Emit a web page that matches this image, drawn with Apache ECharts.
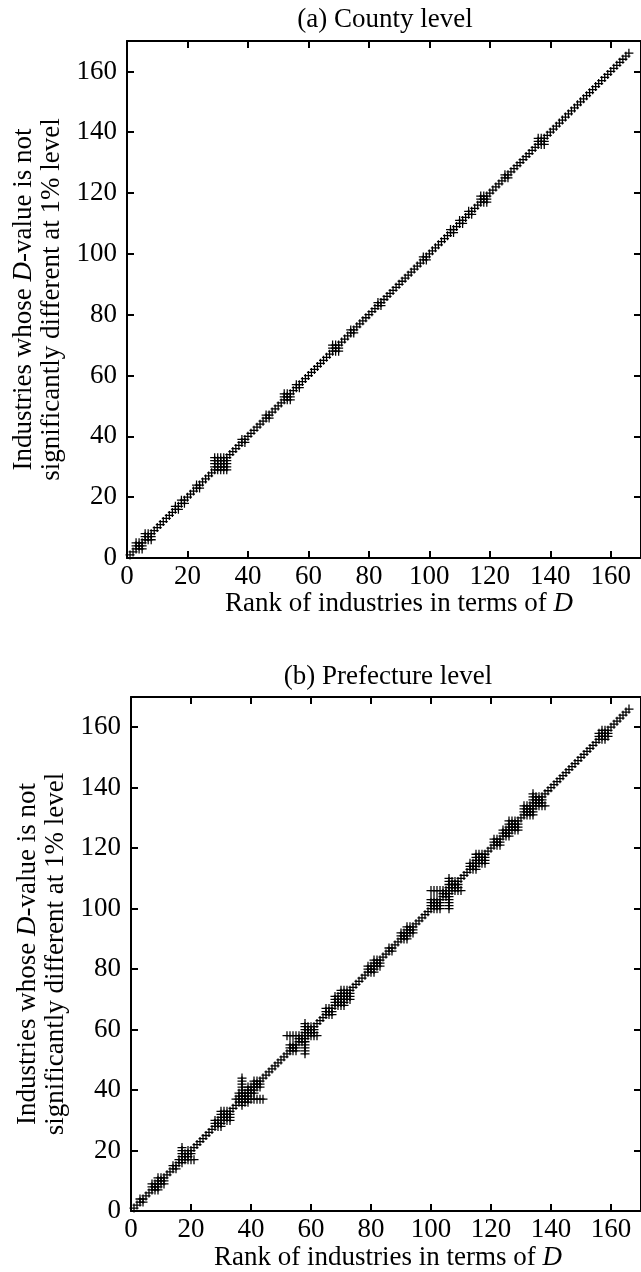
<!DOCTYPE html>
<html>
<head>
<meta charset="utf-8">
<script src="https://cdn.jsdelivr.net/npm/echarts@6/dist/echarts.min.js"></script>
<style>
  html, body { margin: 0; padding: 0; background: #fff; }
  #chart { width: 641px; height: 1272px; }
</style>
</head>
<body>
<div id="chart"></div>
<script>
  // number of industries (ranks 1..N, every industry is on the diagonal)
  var industryCount = 166;

  // (a) County level: groups of ranks whose D-values are not significantly different [from, to]
  var countyBlocks = [[3, 5], [6, 8], [16, 17], [18, 19], [23, 24], [29, 33], [38, 39], [46, 47],
    [52, 54], [56, 57], [68, 70], [74, 75], [83, 84], [98, 99], [107, 108], [110, 111], [113, 114],
    [117, 119], [125, 126], [136, 138]];
  var countySpans = [];

  // (b) Prefecture level
  var prefBlocks = [[3, 4], [7, 9], [9, 11], [14, 15], [17, 19], [19, 20], [28, 30], [30, 33],
    [36, 39], [39, 41], [41, 43], [53, 55], [56, 58], [58, 61], [65, 67], [68, 71], [70, 73],
    [79, 81], [81, 83], [86, 87], [90, 92], [92, 94], [100, 103], [104, 106], [106, 109],
    [113, 115], [115, 118], [121, 123], [124, 126], [126, 129], [131, 134], [134, 137],
    [156, 158], [157, 159]];
  // single industry [rank, from, to] not different from a wider range of ranks
  var prefSpans = [[17, 16, 21], [37, 35, 44], [58, 52, 62], [106, 100, 110], [134, 131, 138]];

  var axisMin = 0, axisMax = 170, axisStep = 20;

  function buildPoints(blocks, spans) {
    var seen = {}, pts = [];
    function add(x, y) {
      var k = x + ',' + y;
      if (!seen[k]) { seen[k] = 1; pts.push([x, y]); }
    }
    for (var r = 1; r <= industryCount; r++) add(r, r);
    blocks.forEach(function (b) {
      for (var i = b[0]; i <= b[1]; i++)
        for (var j = b[0]; j <= b[1]; j++) add(i, j);
    });
    spans.forEach(function (s) {
      for (var j = s[1]; j <= s[2]; j++) { add(s[0], j); add(j, s[0]); }
    });
    return pts;
  }

  var font = 'Liberation Serif';
  var fs = 27;
  var plus = 'path://M4.3,0H5.7V4.3H10V5.7H5.7V10H4.3V5.7H0V4.3H4.3Z';
  var rich = {
    n: { fontFamily: font, fontSize: fs, color: '#000', lineHeight: 28 },
    i: { fontFamily: font, fontSize: fs, color: '#000', fontStyle: 'italic', lineHeight: 28 }
  };

  function xAxisFor(grid, main, shift) {
    return {
      type: 'value', gridIndex: grid, position: main ? 'bottom' : 'top',
      min: axisMin, max: axisMax, interval: axisStep,
      splitLine: { show: false },
      axisLine: { show: true, onZero: false, lineStyle: { color: '#000', width: 2 } },
      axisTick: { show: true, inside: true, length: 7, lineStyle: { color: '#000', width: 2 } },
      axisLabel: { show: main, showMaxLabel: false, margin: 5, color: '#000', fontFamily: font, fontSize: fs },
      name: main ? '{n|Rank of industries in terms of }{i|D}' : '',
      nameLocation: 'middle', nameGap: 30,
      nameTextStyle: { rich: rich, padding: [0, 0, 0, shift || 0] }
    };
  }
  function yAxisFor(grid, main) {
    return {
      type: 'value', gridIndex: grid, position: main ? 'left' : 'right',
      min: axisMin, max: axisMax, interval: axisStep,
      splitLine: { show: false },
      axisLine: { show: true, onZero: false, lineStyle: { color: '#000', width: 2 } },
      axisTick: { show: true, inside: true, length: 7, lineStyle: { color: '#000', width: 2 } },
      axisLabel: { show: main, showMaxLabel: false, margin: 10, color: '#000', fontFamily: font, fontSize: fs },
      name: main ? '{n|Industries whose }{i|D}{n|-value is not}\n{n|significantly different at 1% level}' : '',
      nameLocation: 'middle', nameGap: 60, nameRotate: 90,
      nameTextStyle: { rich: rich }
    };
  }

  var chart = echarts.init(document.getElementById('chart'), null, { renderer: 'canvas' });
  chart.setOption({
    animation: false,
    backgroundColor: '#fff',
    grid: [
      { left: 127, top: 41, width: 517, height: 517 },
      { left: 131, top: 697, width: 518, height: 517 }
    ],
    graphic: [
      { type: 'text', x: 385, y: 20, style: { text: '(a) County level', fill: '#000', font: fs + 'px "Liberation Serif"', align: 'center', verticalAlign: 'middle' } },
      { type: 'text', x: 388, y: 677, style: { text: '(b) Prefecture level', fill: '#000', font: fs + 'px "Liberation Serif"', align: 'center', verticalAlign: 'middle' } }
    ],
    xAxis: [xAxisFor(0, true, 30), xAxisFor(0, false), xAxisFor(1, true, 4), xAxisFor(1, false)],
    yAxis: [yAxisFor(0, true), yAxisFor(0, false), yAxisFor(1, true), yAxisFor(1, false)],
    series: [
      {
        type: 'scatter', xAxisIndex: 0, yAxisIndex: 0,
        symbol: plus, symbolSize: 9,
        itemStyle: { color: '#000', opacity: 1 },
        data: buildPoints(countyBlocks, countySpans)
      },
      {
        type: 'scatter', xAxisIndex: 2, yAxisIndex: 2,
        symbol: plus, symbolSize: 9,
        itemStyle: { color: '#000', opacity: 1 },
        data: buildPoints(prefBlocks, prefSpans)
      }
    ]
  });
</script>
</body>
</html>
